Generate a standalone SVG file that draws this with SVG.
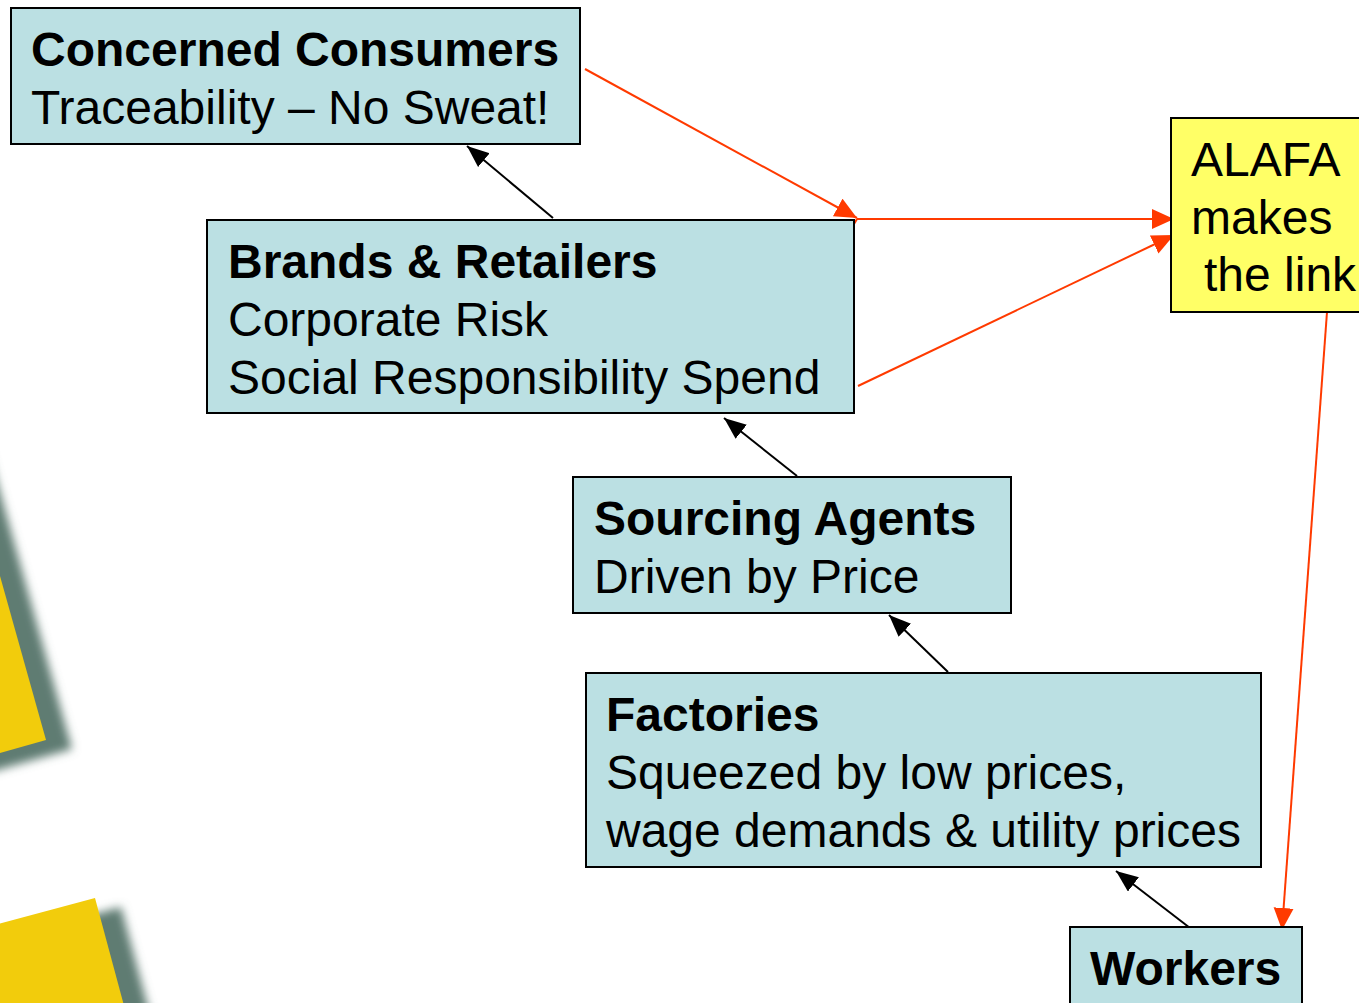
<svg xmlns="http://www.w3.org/2000/svg" width="1359" height="1003" viewBox="0 0 1359 1003">
<defs>
<style>
.box{fill:#bbe0e3;stroke:#000;stroke-width:2}
.alafa{fill:#ffff66;stroke:#000;stroke-width:2}
text{font-family:"Liberation Sans",Arial,sans-serif;font-size:48px;fill:#000}
.b{font-weight:bold}
.blk{stroke:#000;stroke-width:2;fill:none}
.red{stroke:#ff3a00;stroke-width:2;fill:none}
.sq{fill:#f2cc0c}
.sh{fill:#5f7b72}
</style>
<filter id="blur" x="-50%" y="-50%" width="200%" height="200%"><feGaussianBlur stdDeviation="5"/></filter>
<marker id="ab" markerUnits="userSpaceOnUse" markerWidth="24" markerHeight="20" refX="22" refY="9" orient="auto"><path d="M0,0 L22,9 L0,18 z" fill="#000"/></marker>
<marker id="ar" markerUnits="userSpaceOnUse" markerWidth="24" markerHeight="22" refX="22" refY="10" orient="auto"><path d="M0,0 L22,10 L0,20 z" fill="#ff3a00"/></marker>
</defs>
<rect width="1359" height="1003" fill="#fff"/>
<g id="decor">
<polygon class="sh" filter="url(#blur)" transform="translate(26,9)" points="46,740 -62,355 -447,463 -339,848"/>
<polygon class="sq" points="46,740 -62,355 -447,463 -339,848"/>
<polygon class="sh" filter="url(#blur)" transform="translate(26,9)" points="95,898 -291,1002 -187,1388 199,1284"/>
<polygon class="sq" points="95,898 -291,1002 -187,1388 199,1284"/>
</g>
<g id="connectors">
<line class="blk" x1="553" y1="218" x2="467" y2="146" marker-end="url(#ab)"/>
<line class="blk" x1="797" y1="476" x2="724" y2="418" marker-end="url(#ab)"/>
<line class="blk" x1="948" y1="672" x2="889" y2="615" marker-end="url(#ab)"/>
<line class="blk" x1="1190" y1="928" x2="1116" y2="871" marker-end="url(#ab)"/>
<line class="red" x1="585" y1="69" x2="857" y2="218" marker-end="url(#ar)"/>
<line class="red" x1="857" y1="219" x2="1174" y2="219" marker-end="url(#ar)"/>
<line class="red" x1="857" y1="219" x2="784" y2="340" marker-end="url(#ar)"/>
<line class="red" x1="858" y1="386" x2="1174" y2="235" marker-end="url(#ar)"/>
<line class="red" x1="1327" y1="312" x2="1282" y2="930" marker-end="url(#ar)"/>
</g>
<g id="consumers">
<rect class="box" x="11" y="8" width="569" height="136"/>
<text class="b" x="31" y="66">Concerned Consumers</text>
<text x="31" y="124">Traceability – No Sweat!</text>
</g>
<g id="brands">
<rect class="box" x="207" y="220" width="647" height="193"/>
<text class="b" x="228" y="278">Brands &amp; Retailers</text>
<text x="228" y="336">Corporate Risk</text>
<text x="228" y="394">Social Responsibility Spend</text>
</g>
<g id="sourcing">
<rect class="box" x="573" y="477" width="438" height="136"/>
<text class="b" x="594" y="535">Sourcing Agents</text>
<text x="594" y="593">Driven by Price</text>
</g>
<g id="factories">
<rect class="box" x="586" y="673" width="675" height="194"/>
<text class="b" x="606" y="731">Factories</text>
<text x="606" y="789">Squeezed by low prices,</text>
<text x="606" y="847">wage demands &amp; utility prices</text>
</g>
<g id="workers">
<rect class="box" x="1070" y="927" width="232" height="100"/>
<text class="b" x="1090" y="985">Workers</text>
</g>
<g id="alafa">
<rect class="alafa" x="1171" y="118" width="200" height="194"/>
<text x="1191" y="176">ALAFA</text>
<text x="1191" y="234">makes</text>
<text x="1204" y="291">the link</text>
</g>
</svg>
